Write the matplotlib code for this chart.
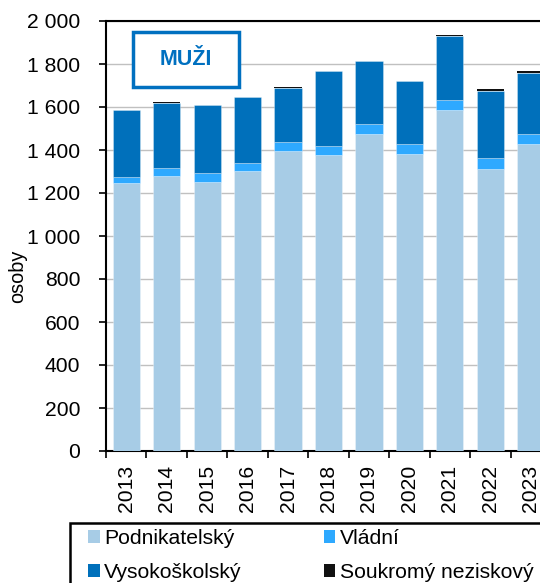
import matplotlib.pyplot as plt
import matplotlib.ticker as mticker
from matplotlib.patches import Patch, Rectangle
import numpy as np

plt.rcParams['font.family'] = ['Liberation Sans', 'DejaVu Sans']

years = ['2013', '2014', '2015', '2016', '2017', '2018', '2019', '2020', '2021', '2022', '2023']
podnikatelsky = [1246, 1279, 1253, 1302, 1395, 1377, 1474, 1381, 1585, 1313, 1429]
vladni = [28, 36, 40, 38, 42, 42, 47, 47, 48, 50, 44]
vysokoskolsky = [312, 305, 315, 307, 250, 348, 291, 291, 296, 311, 285]
soukromy = [1, 1, 1, 1, 7, 1, 1, 1, 7, 8, 9]

series = [
    ('Podnikatelský', podnikatelsky, '#a7cce6'),
    ('Vládní', vladni, '#2ea9ff'),
    ('Vysokoškolský', vysokoskolsky, '#0070bb'),
    ('Soukromý neziskový', soukromy, '#111111'),
]

W, H = 540, 583
fig = plt.figure(figsize=(W / 100, H / 100), dpi=100)
# the plot area runs a bit past the right edge, as in the source image
ax = fig.add_axes([106 / W, 1 - 451 / H, 445 / W, 430 / H])

x = np.arange(len(years))
bottom = np.zeros(len(years))
for name, vals, col in series:
    edge = 'none' if col == '#111111' else (1, 1, 1, 0.3)
    ax.bar(x, vals, width=0.67, bottom=bottom, color=col, zorder=3,
           edgecolor=edge, linewidth=0.7)
    bottom += np.array(vals)

ax.set_xlim(-0.5, len(years) - 0.5)
ax.set_ylim(0, 2000)
ax.yaxis.set_major_locator(mticker.MultipleLocator(200))
ax.yaxis.set_major_formatter(mticker.FuncFormatter(lambda v, p: f'{int(v):,}'.replace(',', ' ')))
ax.grid(axis='y', color='#c0c0c0', linewidth=1, zorder=0)

ax.set_xticks(x)
ax.set_xticklabels(years, rotation=90)
ax.set_xticks(np.arange(-0.5, len(years)), minor=True)
ax.tick_params(axis='x', which='major', length=0, pad=10, labelsize=15.2)
ax.tick_params(axis='x', which='minor', length=5, width=1.2, direction='out')
ax.tick_params(axis='y', length=5, width=1.2, pad=13.5, labelsize=15.2)

for s in ax.spines.values():
    s.set_linewidth(1.5)
    s.set_color('black')

ax.set_ylabel('osoby', fontsize=14.3)
ax.yaxis.set_label_coords(-0.178, 0.407)

# MUŽI box
ax.add_patch(Rectangle((27 / 445, 364 / 430), 106 / 445, 55 / 430, transform=ax.transAxes,
                       facecolor='white', edgecolor='#0070c0', linewidth=2.5, zorder=5))
ax.text(80 / 445, 391.5 / 430, 'MUŽI', transform=ax.transAxes, ha='center', va='center',
        fontsize=15.5, fontweight='bold', color='#0070c0', zorder=6)

# legend frame, cut off by the right and bottom edge
fig.patches.append(Rectangle((70 / W, -0.1), 0.95, 1 - 523 / H + 0.1, transform=fig.transFigure,
                             facecolor='white', edgecolor='black', linewidth=1.8))

handles = [Patch(facecolor=c, label=n) for n, v, c in series]
order = [0, 2, 1, 3]
leg = fig.legend([handles[i] for i in order], [series[i][0] for i in order],
                 ncol=2, loc='upper left', bbox_to_anchor=(88 / W, 1 - 529 / H),
                 frameon=False, fontsize=15.2, handlelength=0.55, handleheight=0.55,
                 handletextpad=0.2, columnspacing=3.9, borderpad=0, labelspacing=0.72,
                 borderaxespad=0)

fig.savefig('out.png', dpi=100)
